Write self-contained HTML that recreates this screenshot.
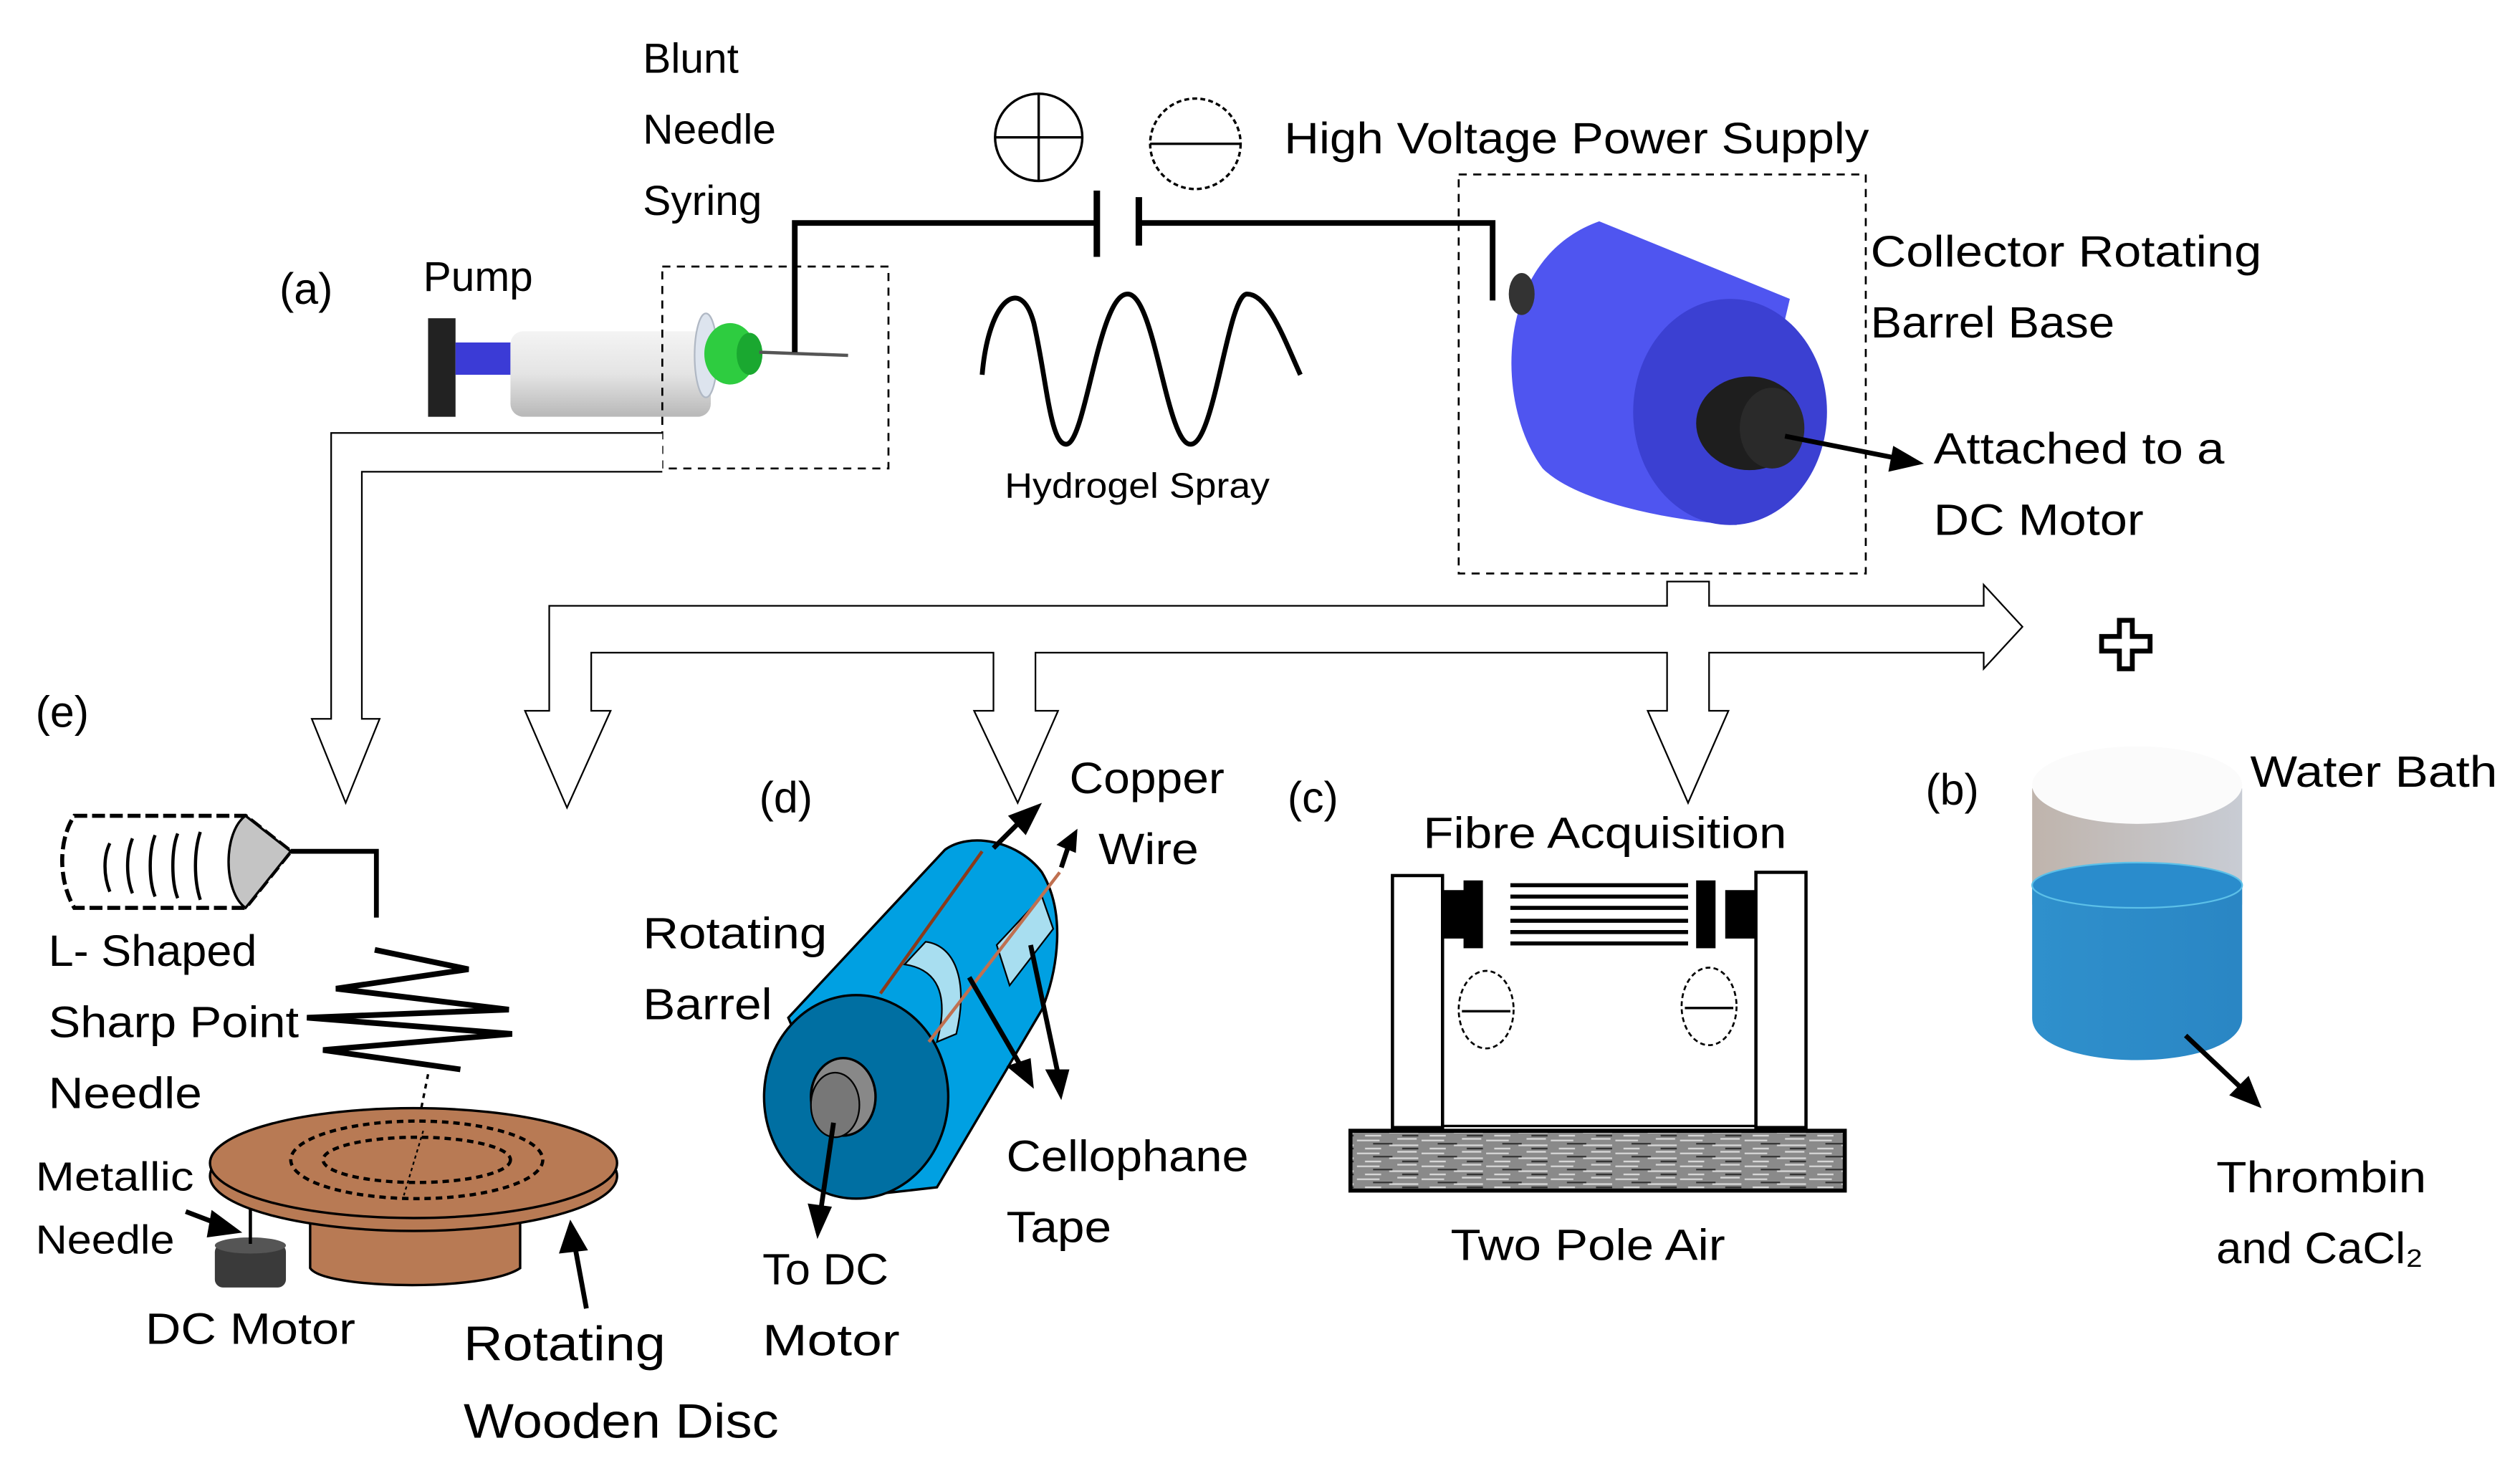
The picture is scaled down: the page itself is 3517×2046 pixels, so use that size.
<!DOCTYPE html>
<html><head><meta charset="utf-8"><style>
html,body{margin:0;padding:0;background:#fff;}
svg{display:block;}
text{font-family:"Liberation Sans",sans-serif;fill:#000;}
</style></head><body>
<svg width="3517" height="2046" viewBox="0 0 1560 907.5" xmlns="http://www.w3.org/2000/svg">
<defs>
<linearGradient id="syr" x1="0" y1="0" x2="0" y2="1"><stop offset="0" stop-color="#f4f4f4"/><stop offset="0.5" stop-color="#e4e4e4"/><stop offset="1" stop-color="#b8b8b8"/></linearGradient>
<linearGradient id="glass" x1="0" y1="0" x2="1" y2="0"><stop offset="0" stop-color="#bfb4ac"/><stop offset="1" stop-color="#c8ccd4"/></linearGradient>
<linearGradient id="water" x1="0" y1="0" x2="1" y2="0"><stop offset="0" stop-color="#2f90cc"/><stop offset="1" stop-color="#2a86c4"/></linearGradient>
<pattern id="wood" width="40" height="8" patternUnits="userSpaceOnUse"><rect width="40" height="8" fill="#8a8a8a"/><path d="M0 2h14M20 5h18M5 7h10M25 1h12" stroke="#d8d8d8" stroke-width="1"/><path d="M10 4h12M28 7h10" stroke="#333" stroke-width="1"/></pattern>
</defs>

<text x="173" y="188" font-size="27">(a)</text>
<text x="262" y="180" font-size="26">Pump</text>
<text x="398" y="45" font-size="26">Blunt</text>
<text x="398" y="89" font-size="26">Needle</text>
<text x="398" y="133" font-size="26">Syring</text>
<text x="795" y="95" font-size="27" textLength="362" lengthAdjust="spacingAndGlyphs">High Voltage Power Supply</text>
<text x="622" y="308" font-size="22" textLength="164" lengthAdjust="spacingAndGlyphs">Hydrogel Spray</text>
<text x="1158" y="165" font-size="27" textLength="242" lengthAdjust="spacingAndGlyphs">Collector Rotating</text>
<text x="1158" y="209" font-size="27" textLength="151" lengthAdjust="spacingAndGlyphs">Barrel Base</text>
<text x="1197" y="287" font-size="27" textLength="180" lengthAdjust="spacingAndGlyphs">Attached to a</text>
<text x="1197" y="331" font-size="27" textLength="130" lengthAdjust="spacingAndGlyphs">DC Motor</text>

<!-- pump/syringe -->
<rect x="265" y="197" width="17" height="61" fill="#222"/>
<rect x="282" y="212" width="34" height="20" fill="#3b3bd6"/>
<rect x="316" y="205" width="124" height="53" rx="8" fill="url(#syr)"/>
<ellipse cx="437" cy="220" rx="7" ry="26" fill="#dde4ee" stroke="#b0b8c4"/>
<ellipse cx="452" cy="219" rx="16" ry="19" fill="#2ecc40"/>
<ellipse cx="464" cy="219" rx="8" ry="13" fill="#1aa830"/>
<line x1="470" y1="218" x2="525" y2="220" stroke="#555" stroke-width="2"/>
<rect x="410" y="165" width="140" height="125" fill="none" stroke="#000" stroke-width="1.2" stroke-dasharray="5,4"/>

<polyline points="492,218 492,138 678,138" fill="none" stroke="#000" stroke-width="3.5"/>
<line x1="679" y1="118" x2="679" y2="159" stroke="#000" stroke-width="4"/>
<line x1="705" y1="122" x2="705" y2="152" stroke="#000" stroke-width="4"/>
<polyline points="705,138 924,138 924,186" fill="none" stroke="#000" stroke-width="3.5"/>
<circle cx="643" cy="85" r="27" fill="none" stroke="#000" stroke-width="1.5"/>
<path d="M616 85h54M643 58v54" stroke="#000" stroke-width="1.5"/>
<circle cx="740" cy="89" r="28" fill="none" stroke="#000" stroke-width="1.5" stroke-dasharray="3,2"/>
<path d="M712 89h56" stroke="#000" stroke-width="1.5"/>

<!-- sine -->
<path d="M608 232 C612 185,632 170,640 200 C648 235,650 275,660 275 C672 275,680 182,698 182 C715 182,722 275,737 275 C752 275,760 182,772 182 C785 182,795 210,805 232" fill="none" stroke="#000" stroke-width="3"/>

<!-- collector -->
<rect x="903" y="108" width="252" height="247" fill="none" stroke="#000" stroke-width="1.2" stroke-dasharray="5,4"/>
<path d="M990 137 L1108 185 L1075 325 C1030 322,975 310,955 290 C925 250,925 160,990 137 Z" fill="#4f55f0"/>
<ellipse cx="942" cy="182" rx="8" ry="13" fill="#333"/>
<ellipse cx="1071" cy="255" rx="60" ry="70" fill="#3b40d2"/>
<ellipse cx="1083" cy="262" rx="33" ry="29" fill="#1e1e1e"/>
<ellipse cx="1097" cy="265" rx="20" ry="25" fill="#2a2a2a"/>
<line x1="1105" y1="270" x2="1176" y2="284" stroke="#000" stroke-width="3"/>
<polygon points="1191,287 1172,276 1169,292" fill="#000"/>

<!-- hollow block arrows -->
<polygon points="340,375 1032,375 1032,360 1058,360 1058,375 1228,375 1228,362 1252,388 1228,414 1228,404 1058,404 1058,440 1070,440 1045,497 1020,440 1032,440 1032,404 641,404 641,440 655,440 630,497 603,440 615,440 615,404 366,404 366,440 378,440 351,500 325,440 340,440" fill="#fff" stroke="#000" stroke-width="1"/>
<polyline points="410,268 205,268 205,445 193,445 214,497 235,445 224,445 224,292 410,292" fill="#fff" stroke="#000" stroke-width="1"/>
<path d="M1312 384h8v10h11v9h-11v11h-8v-11h-11v-9h11z" fill="#fff" stroke="#000" stroke-width="3"/>

<text x="22" y="450" font-size="27">(e)</text>
<text x="470" y="503" font-size="27">(d)</text>
<text x="797" y="503" font-size="27">(c)</text>
<text x="1192" y="498" font-size="27">(b)</text>

<!-- (e) -->
<path d="M46 505 H152 L180 527 L152 562 H46 C36 545,36 520,46 505 Z" fill="#fff" stroke="#000" stroke-width="2.5" stroke-dasharray="8,3"/>
<path d="M152 505 C138 515,138 552,152 562 L180 527 Z" fill="#c4c4c4" stroke="#000" stroke-width="1.5"/>
<path d="M68 522c-4 8-4 20 0 30M82 519c-4 10-4 24 0 34M96 517c-4 10-4 28 0 38M110 516c-4 10-4 30 0 40M124 515c-4 12-4 30 0 42" fill="none" stroke="#000" stroke-width="2"/>
<polyline points="180,527 233,527 233,568" fill="none" stroke="#000" stroke-width="3"/>
<polyline points="232,588 290,600 208,612 315,625 190,630 317,640 200,650 285,662" fill="none" stroke="#000" stroke-width="3.5"/>
<line x1="265" y1="665" x2="258" y2="700" stroke="#000" stroke-width="1.5" stroke-dasharray="3,3"/>
<path d="M192 745 L192 785 C200 798,300 800,322 785 L322 740 Z" fill="#b87a54" stroke="#000" stroke-width="1.5"/>
<ellipse cx="256" cy="728" rx="126" ry="34" fill="#b87a54" stroke="#000" stroke-width="1.5"/>
<ellipse cx="256" cy="720" rx="126" ry="34" fill="#b87a54" stroke="#000" stroke-width="1.5"/>
<ellipse cx="258" cy="718" rx="78" ry="24" fill="none" stroke="#000" stroke-width="2" stroke-dasharray="4,3"/>
<ellipse cx="258" cy="718" rx="58" ry="14" fill="none" stroke="#000" stroke-width="2" stroke-dasharray="4,3"/>
<line x1="262" y1="700" x2="250" y2="740" stroke="#000" stroke-width="1" stroke-dasharray="2,2"/>
<rect x="133" y="770" width="44" height="27" rx="5" fill="#3a3a3a"/>
<ellipse cx="155" cy="771" rx="22" ry="5" fill="#555"/>
<line x1="155" y1="748" x2="155" y2="770" stroke="#000" stroke-width="2"/>
<line x1="115" y1="750" x2="136" y2="758" stroke="#000" stroke-width="3"/>
<polygon points="150,763 131,749 128,766" fill="#000"/>
<line x1="363" y1="810" x2="356" y2="772" stroke="#000" stroke-width="3"/>
<polygon points="353,755 346,776 364,774" fill="#000"/>
<text x="30" y="598" font-size="27" textLength="129" lengthAdjust="spacingAndGlyphs">L- Shaped</text>
<text x="30" y="642" font-size="27" textLength="155" lengthAdjust="spacingAndGlyphs">Sharp Point</text>
<text x="30" y="686" font-size="27" textLength="95" lengthAdjust="spacingAndGlyphs">Needle</text>
<text x="22" y="737" font-size="25" textLength="98" lengthAdjust="spacingAndGlyphs">Metallic</text>
<text x="22" y="776" font-size="25" textLength="86" lengthAdjust="spacingAndGlyphs">Needle</text>
<text x="90" y="832" font-size="27" textLength="130" lengthAdjust="spacingAndGlyphs">DC Motor</text>
<text x="287" y="842" font-size="30" textLength="125" lengthAdjust="spacingAndGlyphs">Rotating</text>
<text x="287" y="890" font-size="30" textLength="195" lengthAdjust="spacingAndGlyphs">Wooden Disc</text>

<!-- (d) -->
<path d="M488 630 L585 526 C600 515,630 520,645 540 C660 565,655 600,645 625 L580 735 L535 740 Z" fill="#00a0e2" stroke="#000" stroke-width="1.5"/>
<ellipse cx="530" cy="679" rx="57" ry="63" fill="#006fa2" stroke="#000" stroke-width="1.5"/>
<ellipse cx="522" cy="679" rx="20" ry="24" fill="#888" stroke="#000" stroke-width="1.5"/>
<ellipse cx="517" cy="684" rx="15" ry="20" fill="#777" stroke="#000" stroke-width="1"/>
<path d="M560 597 L573 583 C590 585,600 605,592 640 L580 645 C588 615,580 600,560 597 Z" fill="#a8def0" stroke="#000" stroke-width="1"/>
<path d="M617 585 L645 555 L652 575 L625 610 Z" fill="#a8def0" stroke="#000" stroke-width="1"/>
<line x1="545" y1="615" x2="608" y2="527" stroke="#8b3a1a" stroke-width="2"/>
<line x1="575" y1="645" x2="656" y2="540" stroke="#c07050" stroke-width="2"/>
<line x1="615" y1="525" x2="632" y2="508" stroke="#000" stroke-width="3"/>
<polygon points="645,497 624,505 635,517" fill="#000"/>
<line x1="657" y1="537" x2="661" y2="525" stroke="#000" stroke-width="3"/>
<polygon points="667,513 654,523 666,528" fill="#000"/>
<line x1="600" y1="605" x2="632" y2="660" stroke="#000" stroke-width="3"/>
<polygon points="640,674 623,660 638,655" fill="#000"/>
<line x1="638" y1="585" x2="655" y2="665" stroke="#000" stroke-width="3"/>
<polygon points="657,681 647,662 662,662" fill="#000"/>
<line x1="516" y1="695" x2="508" y2="750" stroke="#000" stroke-width="3"/>
<polygon points="506,767 500,745 515,747" fill="#000"/>
<text x="662" y="491" font-size="27" textLength="96" lengthAdjust="spacingAndGlyphs">Copper</text>
<text x="680" y="535" font-size="27" textLength="62" lengthAdjust="spacingAndGlyphs">Wire</text>
<text x="398" y="587" font-size="27" textLength="114" lengthAdjust="spacingAndGlyphs">Rotating</text>
<text x="398" y="631" font-size="27" textLength="80" lengthAdjust="spacingAndGlyphs">Barrel</text>
<text x="623" y="725" font-size="27" textLength="150" lengthAdjust="spacingAndGlyphs">Cellophane</text>
<text x="623" y="769" font-size="27" textLength="65" lengthAdjust="spacingAndGlyphs">Tape</text>
<text x="472" y="795" font-size="27" textLength="78" lengthAdjust="spacingAndGlyphs">To DC</text>
<text x="472" y="839" font-size="27" textLength="85" lengthAdjust="spacingAndGlyphs">Motor</text>

<!-- (c) -->
<text x="881" y="525" font-size="27" textLength="225" lengthAdjust="spacingAndGlyphs">Fibre Acquisition</text>
<rect x="862" y="542" width="31" height="156" fill="#fff" stroke="#000" stroke-width="2"/>
<rect x="1087" y="540" width="31" height="158" fill="#fff" stroke="#000" stroke-width="2"/>
<line x1="893" y1="697" x2="1087" y2="697" stroke="#000" stroke-width="1.5"/>
<rect x="893" y="551" width="15" height="30" fill="#000"/>
<rect x="906" y="545" width="12" height="42" fill="#000"/>
<rect x="1068" y="551" width="19" height="30" fill="#000"/>
<rect x="1050" y="545" width="12" height="42" fill="#000"/>
<g stroke="#000" stroke-width="2.5"><path d="M935 548h110M935 555h110M935 562h110M935 570h110M935 577h110M935 584h110"/></g>
<ellipse cx="920" cy="625" rx="17" ry="24" fill="none" stroke="#000" stroke-width="1.2" stroke-dasharray="3,2"/>
<path d="M905 626h30" stroke="#000" stroke-width="1.5"/>
<ellipse cx="1058" cy="623" rx="17" ry="24" fill="none" stroke="#000" stroke-width="1.2" stroke-dasharray="3,2"/>
<path d="M1043 624h30" stroke="#000" stroke-width="1.5"/>
<rect x="836" y="700" width="306" height="37" fill="url(#wood)" stroke="#000" stroke-width="2.5"/>
<text x="898" y="780" font-size="27" textLength="170" lengthAdjust="spacingAndGlyphs">Two Pole Air</text>

<!-- (b) -->
<path d="M1258 488 V560 H1388 V488 Z" fill="url(#glass)"/>
<path d="M1258 548 V630 C1258 665,1388 665,1388 630 V548 Z" fill="url(#water)"/>
<ellipse cx="1323" cy="548" rx="65" ry="14" fill="#2a8ccc" stroke="#5cc0e8" stroke-width="1"/>
<ellipse cx="1323" cy="486" rx="65" ry="24" fill="#fbfbfb"/>
<line x1="1353" y1="641" x2="1388" y2="674" stroke="#000" stroke-width="3"/>
<polygon points="1400,686 1380,678 1392,666" fill="#000"/>
<text x="1393" y="487" font-size="27" textLength="153" lengthAdjust="spacingAndGlyphs">Water Bath</text>
<text x="1372" y="738" font-size="27" textLength="130" lengthAdjust="spacingAndGlyphs">Thrombin</text>
<text x="1372" y="782" font-size="27" textLength="128" lengthAdjust="spacingAndGlyphs">and CaCl₂</text>
</svg>
</body></html>
